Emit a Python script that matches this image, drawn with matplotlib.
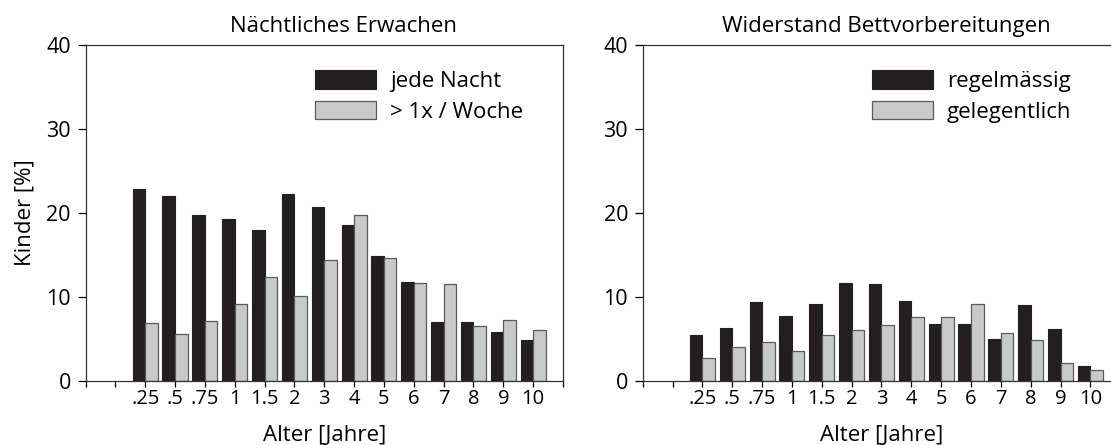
import matplotlib
matplotlib.use("Agg")
import matplotlib.pyplot as plt
import numpy as np

plt.rcParams['font.family'] = ['Open Sans', 'DejaVu Sans']

# age groups (years)
ages = [".25", ".5", ".75", "1", "1.5", "2", "3", "4", "5", "6", "7", "8", "9", "10"]

# night waking, % of children
wake_nightly = [22.9, 22.0, 19.8, 19.3, 18.0, 22.2, 20.7, 18.5, 14.9, 11.8, 7.0, 7.0, 5.8, 4.9]
wake_weekly = [6.9, 5.6, 7.1, 9.1, 12.3, 10.1, 14.4, 19.8, 14.6, 11.7, 11.5, 6.5, 7.2, 6.1]

# resistance at bedtime, % of children
resist_regular = [5.5, 6.3, 9.35, 7.7, 9.15, 11.7, 11.5, 9.5, 6.8, 6.8, 5.0, 9.0, 6.2, 1.75]
resist_occasional = [2.7, 4.0, 4.6, 3.5, 5.4, 6.0, 6.6, 7.6, 7.6, 9.15, 5.7, 4.8, 2.1, 1.3]

DARK = "#231f20"
LIGHT = "#c8c9ca"
EDGE = "#5a5a5a"
FS = 16

fig = plt.figure(figsize=(11.11, 4.45), dpi=100)
ax1 = fig.add_axes([85.5 / 1111, 1 - 380.7 / 445, 477.5 / 1111, 335.7 / 445])
ax2 = fig.add_axes([642.7 / 1111, 1 - 380.7 / 445, 477.5 / 1111, 335.7 / 445])

pos = np.arange(2, 2 + len(ages))
w = 0.42


def panel(ax, title, title_x, dark, light, labels, ylabel=None):
    ax.bar(pos - w / 2, dark, width=w, color=DARK, edgecolor=DARK, linewidth=0.8, label=labels[0])
    ax.bar(pos + w / 2, light, width=w, color=LIGHT, edgecolor=EDGE, linewidth=0.9, label=labels[1])
    ax.set_xlim(0, 16)
    ax.set_ylim(0, 40)
    ax.set_yticks([0, 10, 20, 30, 40])
    ax.set_xticks(np.arange(0, 17))
    ax.set_xticklabels([""] * 2 + ages + [""])
    ax.tick_params(axis="y", direction="out", length=5.5, width=0.9, pad=5, labelsize=15.5)
    ax.tick_params(axis="x", direction="out", length=4, width=0.9, pad=2, labelsize=14.5)
    for s in ax.spines.values():
        s.set_linewidth(0.9)
        s.set_color("#333333")
    ax.set_title(title, fontsize=FS, x=title_x, pad=9.5)
    ax.set_xlabel("Alter [Jahre]", fontsize=FS, labelpad=11.5)
    if ylabel:
        ax.set_ylabel(ylabel, fontsize=FS, labelpad=8)
    ax.legend(loc="upper left", bbox_to_anchor=(0.48, 0.925), frameon=False, fontsize=FS,
              handlelength=2.75, handleheight=0.9, handletextpad=0.63, labelspacing=0.4,
              borderpad=0, borderaxespad=0)


panel(ax1, "Nächtliches Erwachen", 0.541, wake_nightly, wake_weekly,
      ["jede Nacht", "> 1x / Woche"], ylabel="Kinder [%]")
panel(ax2, "Widerstand Bettvorbereitungen", 0.51, resist_regular, resist_occasional,
      ["regelmässig", "gelegentlich"])

fig.savefig("out.png", dpi=100)
